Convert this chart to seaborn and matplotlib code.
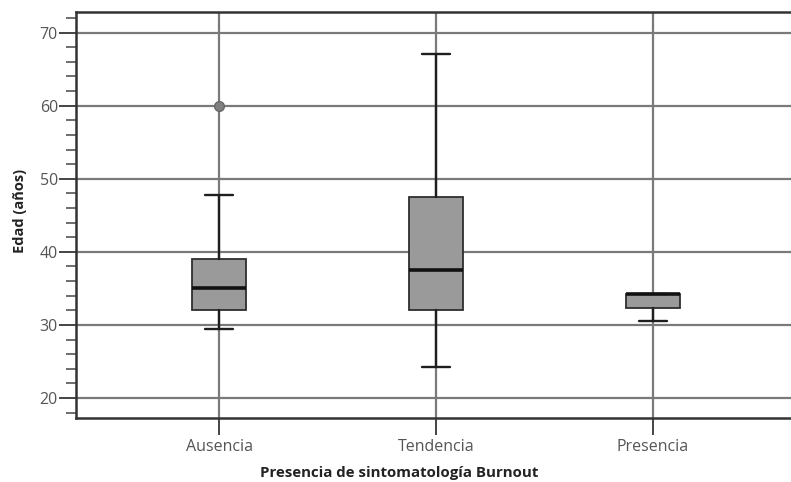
import matplotlib
matplotlib.use("Agg")
import matplotlib.pyplot as plt
from matplotlib.ticker import MultipleLocator
import seaborn as sns

# Summary statistics of age (years) by burnout group
categories = ["Ausencia", "Tendencia", "Presencia"]
whisker_low = [29.5, 24.2, 30.5]
q1 = [32.0, 32.1, 32.3]
median = [35.0, 37.5, 34.3]
q3 = [39.0, 47.5, 34.3]
whisker_high = [47.8, 67.1, 34.3]
outliers = [[60.0], [], []]

y_ticks = [20, 30, 40, 50, 60, 70]

sns.set_theme(style="white")
plt.rcParams["font.family"] = ["Open Sans", "DejaVu Sans"]

fig = plt.figure(figsize=(7.91, 4.82), dpi=100)
ax = fig.add_axes([0.0961, 0.1328, 0.9039, 0.8432])

stats = []
for i, name in enumerate(categories):
    stats.append(dict(label=name, whislo=whisker_low[i], q1=q1[i], med=median[i],
                      q3=q3[i], whishi=whisker_high[i], fliers=outliers[i]))

ax.bxp(stats, positions=range(len(categories)), widths=0.25, patch_artist=True,
       showfliers=True,
       boxprops=dict(facecolor="#9a9a9a", edgecolor="#2e2e2e", linewidth=1.3),
       medianprops=dict(color="#111111", linewidth=2.6),
       whiskerprops=dict(color="#1e1e1e", linewidth=1.7),
       capprops=dict(color="#1e1e1e", linewidth=1.7),
       capwidths=0.125,
       flierprops=dict(marker="o", markersize=7, markerfacecolor="#808080",
                       markeredgecolor="#666666"))

ax.set_xlim(-0.659, 2.636)
ax.set_ylim(17.27, 72.87)

ax.set_xticks(range(len(categories)))
ax.set_xticklabels(categories)
ax.set_yticks(y_ticks)
ax.yaxis.set_minor_locator(MultipleLocator(2))

# Grid lines sit behind the boxes
ax.set_axisbelow(True)
for y in y_ticks:
    ax.axhline(y, color="#7a7a7a", linewidth=1.6, zorder=0)
for x in range(len(categories)):
    ax.axvline(x, color="#7a7a7a", linewidth=1.6, zorder=0)

for side in ["left", "bottom", "top"]:
    ax.spines[side].set_visible(True)
    ax.spines[side].set_color("#333333")
    ax.spines[side].set_linewidth(1.8)
ax.spines["right"].set_visible(False)

ax.tick_params(axis="x", which="major", direction="out", length=12, width=1.4,
               color="#444444", labelsize=11.5, labelcolor="#555555", pad=3,
               bottom=True)
ax.tick_params(axis="y", which="major", direction="out", length=12, width=1.4,
               color="#444444", labelsize=11.5, labelcolor="#555555", pad=1,
               left=True)
ax.tick_params(axis="y", which="minor", direction="out", length=7, width=1.2,
               color="#555555", left=True)

ax.set_xlabel("Presencia de sintomatología Burnout", fontsize=10.8,
              fontweight="bold", color="#222222")
ax.xaxis.set_label_coords(0.452, -0.118)
ax.set_ylabel("Edad (años)", fontsize=10.5, fontweight="bold", color="#222222")
ax.yaxis.set_label_coords(-0.069, 0.51)

fig.savefig("out.png", dpi=100)
